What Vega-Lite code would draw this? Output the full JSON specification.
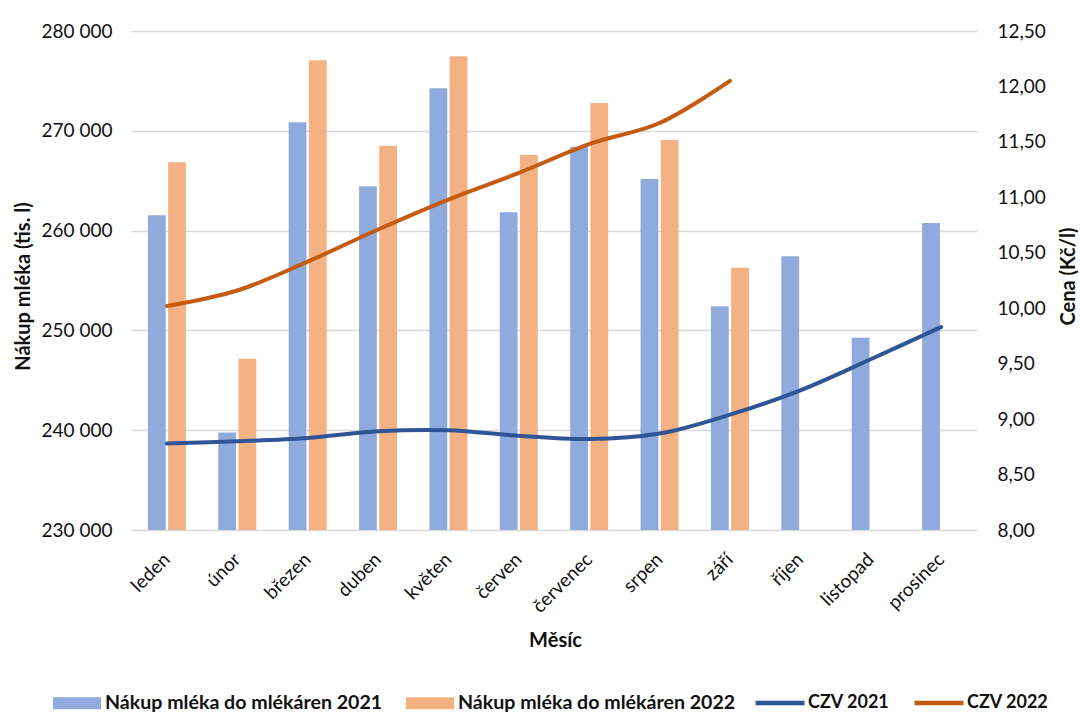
{
  "$schema": "https://vega.github.io/schema/vega-lite/v6.json",
  "width": 846,
  "height": 499,
  "autosize": {"type": "none"},
  "padding": {"left": 131, "top": 31, "right": 103, "bottom": 183},
  "background": "white",
  "config": {
    "font": "Lato",
    "view": {"stroke": null},
    "axis": {"labelColor": "#111111", "titleColor": "#111111", "labelFont": "Lato", "titleFont": "Lato"},
    "legend": {"labelFont": "Lato", "labelFontWeight": "bold", "labelColor": "#111111", "labelLimit": 500}
  },
  "datasets": {
    "bars": [
      {"month": "leden", "series": "Nákup mléka do mlékáren 2021", "value": 261530},
      {"month": "leden", "series": "Nákup mléka do mlékáren 2022", "value": 266840},
      {"month": "únor", "series": "Nákup mléka do mlékáren 2021", "value": 239770},
      {"month": "únor", "series": "Nákup mléka do mlékáren 2022", "value": 247160},
      {"month": "březen", "series": "Nákup mléka do mlékáren 2021", "value": 270850},
      {"month": "březen", "series": "Nákup mléka do mlékáren 2022", "value": 277060},
      {"month": "duben", "series": "Nákup mléka do mlékáren 2021", "value": 264440},
      {"month": "duben", "series": "Nákup mléka do mlékáren 2022", "value": 268510},
      {"month": "květen", "series": "Nákup mléka do mlékáren 2021", "value": 274260},
      {"month": "květen", "series": "Nákup mléka do mlékáren 2022", "value": 277460},
      {"month": "červen", "series": "Nákup mléka do mlékáren 2021", "value": 261830},
      {"month": "červen", "series": "Nákup mléka do mlékáren 2022", "value": 267580},
      {"month": "červenec", "series": "Nákup mléka do mlékáren 2021", "value": 268410},
      {"month": "červenec", "series": "Nákup mléka do mlékáren 2022", "value": 272790},
      {"month": "srpen", "series": "Nákup mléka do mlékáren 2021", "value": 265170},
      {"month": "srpen", "series": "Nákup mléka do mlékáren 2022", "value": 269080},
      {"month": "září", "series": "Nákup mléka do mlékáren 2021", "value": 252410},
      {"month": "září", "series": "Nákup mléka do mlékáren 2022", "value": 256280},
      {"month": "říjen", "series": "Nákup mléka do mlékáren 2021", "value": 257420},
      {"month": "listopad", "series": "Nákup mléka do mlékáren 2021", "value": 249270},
      {"month": "prosinec", "series": "Nákup mléka do mlékáren 2021", "value": 260760}
    ],
    "lines": [
      {"month": "leden", "series": "CZV 2021", "price": 8.78},
      {"month": "únor", "series": "CZV 2021", "price": 8.80},
      {"month": "březen", "series": "CZV 2021", "price": 8.83},
      {"month": "duben", "series": "CZV 2021", "price": 8.89},
      {"month": "květen", "series": "CZV 2021", "price": 8.90},
      {"month": "červen", "series": "CZV 2021", "price": 8.85},
      {"month": "červenec", "series": "CZV 2021", "price": 8.82},
      {"month": "srpen", "series": "CZV 2021", "price": 8.87},
      {"month": "září", "series": "CZV 2021", "price": 9.04},
      {"month": "říjen", "series": "CZV 2021", "price": 9.26},
      {"month": "listopad", "series": "CZV 2021", "price": 9.54},
      {"month": "prosinec", "series": "CZV 2021", "price": 9.83},
      {"month": "leden", "series": "CZV 2022", "price": 10.02},
      {"month": "únor", "series": "CZV 2022", "price": 10.16},
      {"month": "březen", "series": "CZV 2022", "price": 10.42},
      {"month": "duben", "series": "CZV 2022", "price": 10.71},
      {"month": "květen", "series": "CZV 2022", "price": 10.98},
      {"month": "červen", "series": "CZV 2022", "price": 11.22},
      {"month": "červenec", "series": "CZV 2022", "price": 11.48},
      {"month": "srpen", "series": "CZV 2022", "price": 11.67},
      {"month": "září", "series": "CZV 2022", "price": 12.05}
    ]
  },
  "layer": [
    {
      "data": {"name": "bars"},
      "mark": {"type": "bar", "clip": true},
      "encoding": {
        "x": {
          "field": "month", "type": "nominal",
          "sort": ["leden", "únor", "březen", "duben", "květen", "červen", "červenec", "srpen", "září", "říjen", "listopad", "prosinec"],
          "scale": {"paddingInner": 0.46, "paddingOuter": 0.24},
          "axis": {
            "domain": false, "ticks": false, "grid": false,
            "labelAngle": -45, "labelAlign": "right", "labelBaseline": "middle",
            "labelPadding": 26, "labelFontSize": 19,
            "title": "Měsíc", "titleFontSize": 20, "titleFontWeight": "bold",
            "titleBaseline": "middle", "titleY": 110, "titleX": 424, "titleAlign": "center"
          }
        },
        "xOffset": {"field": "series", "type": "nominal", "scale": {"paddingInner": 0.12}},
        "y": {
          "field": "value", "type": "quantitative",
          "scale": {"domain": [230000, 280000], "nice": false, "zero": false},
          "axis": {
            "orient": "left", "grid": true, "gridColor": "#D9D9D9", "gridWidth": 1.5,
            "domain": false, "ticks": false, "labelPadding": 19, "labelFontSize": 19,
            "values": [230000, 240000, 250000, 260000, 270000, 280000],
            "labelExpr": "replace(format(datum.value, ',d'), ',', ' ')",
            "title": "Nákup mléka (tis. l)", "titleFontSize": 20, "titleFontWeight": "bold",
            "titleAngle": 270, "titleAlign": "center", "titleBaseline": "middle",
            "titleX": -108, "titleY": 255
          }
        },
        "fill": {
          "field": "series", "type": "nominal",
          "scale": {
            "domain": ["Nákup mléka do mlékáren 2021", "Nákup mléka do mlékáren 2022"],
            "range": ["#8FAADC", "#F4B183"]
          },
          "legend": {
            "orient": "none", "legendX": -78, "legendY": 648, "direction": "horizontal", "columns": 2,
            "title": null, "padding": 0, "labelOffset": 4, "columnPadding": 23, "labelFontSize": 19.6,
            "symbolSize": 2304, "symbolType": "M-1,-0.25H1V0.25H-1Z", "symbolStrokeWidth": 0
          }
        }
      }
    },
    {
      "data": {"name": "lines"},
      "mark": {"type": "line", "strokeWidth": 4, "interpolate": "catmull-rom", "strokeCap": "round", "strokeJoin": "round"},
      "encoding": {
        "x": {
          "field": "month", "type": "nominal",
          "sort": ["leden", "únor", "březen", "duben", "květen", "červen", "červenec", "srpen", "září", "říjen", "listopad", "prosinec"]
        },
        "y": {
          "field": "price", "type": "quantitative",
          "scale": {"domain": [8, 12.5], "nice": false, "zero": false},
          "axis": {
            "orient": "right", "grid": false, "domain": false, "ticks": false,
            "labelPadding": 20, "labelFontSize": 19,
            "values": [8, 8.5, 9, 9.5, 10, 10.5, 11, 11.5, 12, 12.5],
            "labelExpr": "replace(format(datum.value, '.2f'), '.', ',')",
            "title": "Cena (Kč/l)", "titleFontSize": 20, "titleFontWeight": "bold",
            "titleAngle": 270, "titleAlign": "center", "titleBaseline": "middle",
            "titleX": 91, "titleY": 245
          }
        },
        "stroke": {
          "field": "series", "type": "nominal",
          "scale": {"domain": ["CZV 2021", "CZV 2022"], "range": ["#2F5597", "#C55A11"]},
          "legend": {
            "orient": "none", "legendX": 622, "legendY": 645, "direction": "horizontal", "columns": 2,
            "title": null, "padding": 0, "labelOffset": 1, "columnPadding": 15, "labelFontSize": 18,
            "symbolSize": 2401, "symbolType": "stroke", "symbolStrokeWidth": 4.5
          }
        }
      }
    }
  ],
  "resolve": {"scale": {"y": "independent"}}
}
